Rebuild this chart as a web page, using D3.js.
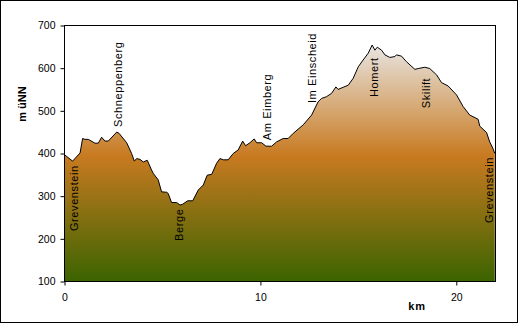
<!DOCTYPE html>
<html>
<head>
<meta charset="utf-8">
<script src="https://cdn.jsdelivr.net/npm/d3@7"></script>
<style>
  body { margin: 0; background: #fff; }
  svg { display: block; font-family: Arial, "Liberation Sans", sans-serif; }
</style>
</head>
<body>
<div id="chart"></div>
<script>
// profile: distance (km) and elevation (m uNN)
var km = [0.00, 0.05, 0.44, 0.82, 0.95, 1.07, 1.24, 1.58, 1.75, 1.92, 2.09, 2.26, 2.69, 2.81,
  3.20, 3.45, 3.59, 3.71, 3.88, 4.05, 4.25, 4.47, 4.56, 4.81, 4.98, 5.24, 5.32, 5.49, 5.75,
  5.92, 6.06, 6.31, 6.57, 6.85, 7.11, 7.31, 7.54, 7.79, 7.96, 8.13, 8.38, 8.64, 8.89, 9.12,
  9.27, 9.49, 9.71, 9.83, 10.09, 10.31, 10.60, 10.85, 11.19, 11.44, 11.70, 12.21, 12.64,
  12.97, 13.15, 13.40, 13.66, 13.88, 13.99, 14.25, 14.51, 14.76, 15.02, 15.27, 15.53, 15.73,
  15.87, 15.99, 16.21, 16.38, 16.63, 16.89, 16.97, 17.23, 17.48, 17.91, 18.08, 18.42, 18.67,
  19.02, 19.27, 19.61, 20.04, 20.37, 20.71, 21.14, 21.22, 21.57, 21.73, 21.89, 21.99];
var hoehe = [397, 395, 381, 400, 434, 432, 432, 423, 423, 437, 428, 428, 449, 446,
  424, 399, 381, 387, 385, 379, 383, 360, 352, 337, 309, 308, 305, 284, 284,
  278, 280, 288, 288, 313, 325, 348, 350, 376, 387, 384, 384, 399, 407, 428,
  417, 424, 433, 424, 424, 416, 416, 426, 434, 434, 446, 466, 489,
  520, 528, 532, 540, 555, 549, 554, 559, 575, 602, 618, 634, 653,
  641, 648, 641, 630, 624, 626, 630, 627, 614, 596, 598, 601, 598,
  583, 565, 557, 536, 509, 489, 479, 463, 448, 426, 411, 399];

// place names: name, km, elevation where the label starts
var orte = ["Grevenstein", "Schneppenberg", "Berge", "Am Eimberg", "Im Einscheid", "Homert", "Skilift", "Grevenstein"];
var ortKm = [0.51, 2.76, 5.87, 10.36, 12.65, 15.82, 18.47, 21.68];
var ortHoehe = [217, 461, 194, 430, 517, 531, 505, 236];

var xTicks = [0, 10, 20];
var yTicks = [100, 200, 300, 400, 500, 600, 700];

var W = 519, H = 324;
var margin = { top: 25, right: 24, bottom: 43, left: 64 };

var svg = d3.select("#chart").append("svg")
  .attr("width", W)
  .attr("height", H);

// outer frame
svg.append("rect")
  .attr("x", 0.5).attr("y", 0.5)
  .attr("width", W - 2).attr("height", H - 2)
  .attr("fill", "#fff")
  .attr("stroke", "#000");

var x = d3.scaleLinear().domain([0, 22]).range([margin.left, W - margin.right]);
var y = d3.scaleLinear().domain([100, 700]).range([H - margin.bottom, margin.top]);

var points = km.map(function(d, i) { return [d, hoehe[i]]; });

// gradient fill, light at the summit, orange in the middle, green at the bottom
var grad = svg.append("defs").append("linearGradient")
  .attr("id", "fuell")
  .attr("gradientUnits", "userSpaceOnUse")
  .attr("x1", 0).attr("x2", 0)
  .attr("y1", y(d3.max(hoehe))).attr("y2", y(100));
grad.append("stop").attr("offset", "0").attr("stop-color", "#e8e5e2");
grad.append("stop").attr("offset", "0.47").attr("stop-color", "#c87a20");
grad.append("stop").attr("offset", "1").attr("stop-color", "#3c6400");

var area = d3.area()
  .x(function(d) { return x(d[0]); })
  .y0(y(100))
  .y1(function(d) { return y(d[1]); });

var line = d3.line()
  .x(function(d) { return x(d[0]); })
  .y(function(d) { return y(d[1]); });

svg.append("path")
  .datum(points)
  .attr("d", area)
  .attr("fill", "url(#fuell)");

svg.append("path")
  .datum(points)
  .attr("d", line)
  .attr("fill", "none")
  .attr("stroke", "#000")
  .attr("stroke-width", 1);

// plot area frame
svg.append("rect")
  .attr("x", x(0) + 0.5).attr("y", y(700) + 0.5)
  .attr("width", x(22) - x(0)).attr("height", y(100) - y(700))
  .attr("fill", "none")
  .attr("stroke", "#000");

// axes
var yAxis = svg.append("g")
  .attr("transform", "translate(" + (x(0) + 0.5) + ",0.5)")
  .call(d3.axisLeft(y).tickValues(yTicks).tickSize(4).tickPadding(5));
var xAxis = svg.append("g")
  .attr("transform", "translate(0.5," + (y(100) + 0.5) + ")")
  .call(d3.axisBottom(x).tickValues(xTicks).tickSize(4).tickPadding(8));

[yAxis, xAxis].forEach(function(a) {
  a.select(".domain").remove();
  a.selectAll("line").attr("stroke", "#000");
  a.selectAll("text")
    .attr("fill", "#000")
    .style("font-size", "10.5px")
    .style("font-family", "Arial, 'Liberation Sans', sans-serif");
});

// axis titles
svg.append("text")
  .attr("transform", "translate(22," + ((y(700) + y(100)) / 2 - 49) + ") rotate(-90)")
  .attr("text-anchor", "middle")
  .attr("dy", "0.35em")
  .style("font-size", "11px")
  .style("font-weight", "bold")
  .text("m üNN");

svg.append("text")
  .attr("x", 417)
  .attr("y", 306)
  .attr("text-anchor", "middle")
  .attr("dy", "0.35em")
  .style("font-size", "11px")
  .style("font-weight", "bold")
  .style("letter-spacing", "0.8px")
  .text("km");

// place labels
svg.selectAll("text.ort")
  .data(orte)
  .enter().append("text")
  .attr("class", "ort")
  .attr("transform", function(d, i) {
    return "translate(" + x(ortKm[i]) + "," + y(ortHoehe[i]) + ") rotate(-90)";
  })
  .attr("dy", "0.35em")
  .attr("text-anchor", "start")
  .style("font-size", "11px")
  .style("letter-spacing", "0.6px")
  .text(function(d) { return d; });
</script>
</body>
</html>
